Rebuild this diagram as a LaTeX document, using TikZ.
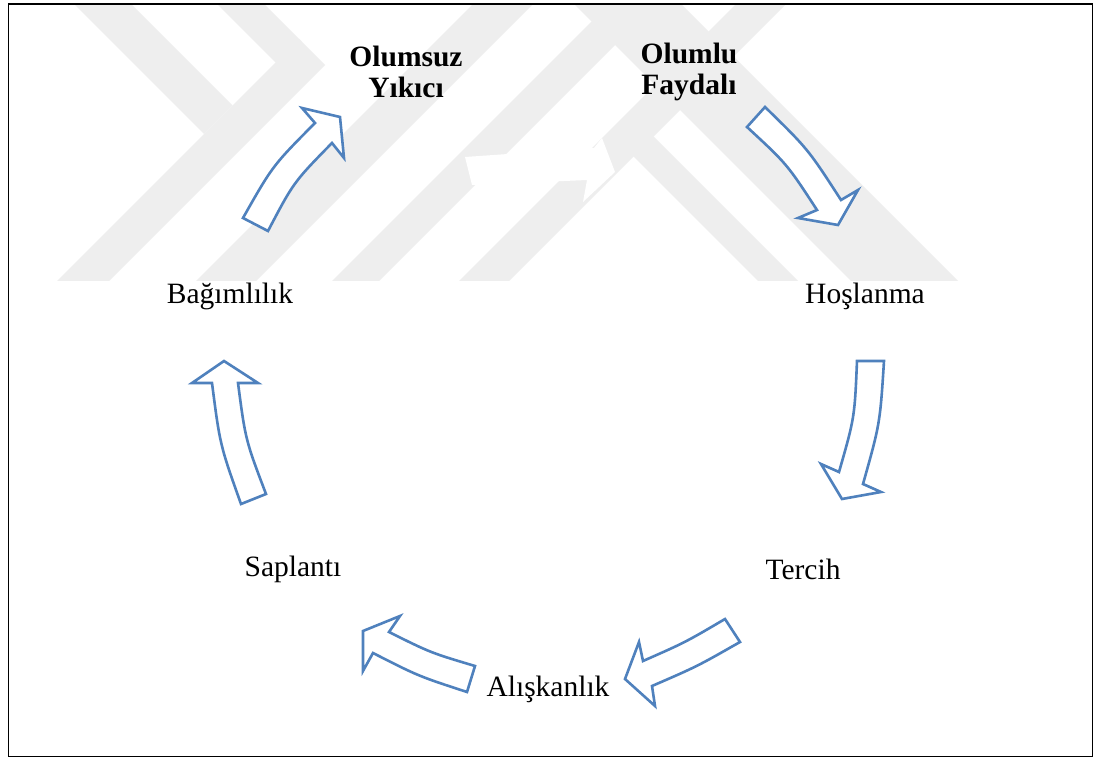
\documentclass[tikz,border=0pt]{standalone}
\usepackage{fontspec}
\setmainfont{Liberation Serif}
\definecolor{wm}{HTML}{EEEEEE}
\definecolor{arrowblue}{HTML}{4F81BD}
\begin{document}
\begin{tikzpicture}[x=1pt,y=-1pt,
  blockarrow/.style={draw=arrowblue, line width=2.6pt, fill=white, line join=miter},
  lbl/.style={font=\fontsize{29.5}{31}\selectfont, align=center, inner sep=0pt},
  blbl/.style={font=\fontsize{29.5}{31}\selectfont\bfseries, align=center, inner sep=0pt}]
\useasboundingbox (0,0) rectangle (1101,760);
\fill[white] (0,0) rectangle (1101,760);
% watermark
\begin{scope}
\clip (10,5) rectangle (1091,280);
\fill[wm] (70,0) -- (127,0) -- (232.5,105.5) -- (204,134) -- cycle;
\fill[wm] (213,0) -- (260,0) -- (301.5,41.5) -- (278,65) -- cycle;
\fill[wm] (48,290) -- (100,290) -- (325,65) -- (299,39) -- cycle;
\fill[wm] (187,290) -- (247,290) -- (537,0) -- (477,0) -- cycle;
\fill[wm] (323,290) -- (370,290) -- (660,0) -- (613,0) -- cycle;
\fill[wm] (450,290) -- (500,290) -- (790,0) -- (740,0) -- cycle;
\fill[wm] (631,154) -- (651,134) -- (807,290) -- (767,290) -- cycle;
\fill[wm] (570,0) -- (677,0) -- (967,290) -- (860,290) -- cycle;
\end{scope}
% hidden white arrow
\fill[white] (465,157) -- (594,148) -- (602,138) -- (615,172) -- (583,202) -- (587,180) -- (472,185) -- cycle;
% frame
\draw[line width=1.8pt] (8.5,4) rectangle (1092.5,756.5);
% labels
\node[blbl] (neg) at (406,72) {Olumsuz\\Yıkıcı};
\node[blbl] (pos) at (689,72) {Olumlu\\Faydalı};
\node[lbl] (bag) at (230,296) {Bağımlılık};
\node[lbl] (hos) at (865,296) {Hoşlanma};
\node[lbl] (ter) at (803,569) {Tercih};
\node[lbl] (sap) at (293,569) {Saplantı};
\node[lbl] (ali) at (548,689) {Alışkanlık};
% block arrows
\draw[blockarrow] (243,218) .. controls (272.6,165.7) .. (315,123) -- (302,108) -- (340,117) -- (344,158) -- (332,143) .. controls (293.6,182.2) .. (268,231) -- cycle;
\draw[blockarrow] (747,127) .. controls (787,164) .. (817,210) -- (798,218) -- (838,225) -- (858,190) -- (841,200) .. controls (808,149) .. (765,107) -- cycle;
\draw[blockarrow] (857,361) .. controls (854.6,417.6) .. (839,472) -- (821,464) -- (842,499) -- (881,492) -- (863,484) .. controls (880,423.6) .. (884,361) -- cycle;
\draw[blockarrow] (241,504) .. controls (220,445) .. (212,383) -- (192,383) -- (224,361) -- (258,383) -- (238,383) .. controls (245.5,440) .. (266,494) -- cycle;
\draw[blockarrow] (475,666) .. controls (430.5,652.7) .. (389,632) -- (400,616) -- (363,631) -- (363,671) -- (373,653) .. controls (418.5,676.2) .. (467,692) -- cycle;
\draw[blockarrow] (725,619) .. controls (685.2,642.4) .. (643,661) -- (639,642) -- (625,679) -- (655,706) -- (652,686) .. controls (697.2,666.4) .. (740,642) -- cycle;
\end{tikzpicture}
\end{document}
